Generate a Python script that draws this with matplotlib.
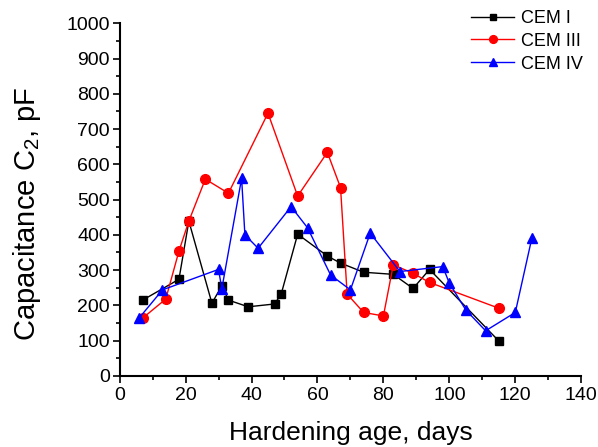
import matplotlib
matplotlib.use('Agg')
import matplotlib.pyplot as plt
from matplotlib.ticker import MultipleLocator

plt.rcParams['font.family'] = ['Liberation Sans', 'DejaVu Sans']
plt.rcParams['mathtext.fontset'] = 'custom'
plt.rcParams['mathtext.rm'] = 'Liberation Sans'

# CEM I
days_cem1 = [7, 18, 21, 28, 31, 33, 39, 47, 49, 54, 63, 67, 74, 83, 89, 94, 115]
cap_cem1 = [215, 274, 439, 206, 256, 215, 196, 204, 232, 402, 340, 320, 294, 288, 248, 302, 99]

# CEM III
days_cem3 = [7, 14, 18, 21, 26, 33, 45, 54, 63, 67, 69, 74, 80, 83, 89, 94, 115]
cap_cem3 = [164, 218, 354, 439, 558, 518, 745, 510, 634, 534, 232, 180, 170, 315, 291, 265, 192]

# CEM IV
days_cem4 = [6, 13, 30, 31, 37, 38, 42, 52, 57, 64, 70, 76, 85, 98, 100, 105, 111, 120, 125]
cap_cem4 = [165, 244, 302, 247, 560, 400, 362, 480, 420, 286, 244, 405, 296, 310, 263, 187, 128, 180, 390]

fig = plt.figure(figsize=(5.98, 4.47), dpi=100)
ax = fig.add_axes([0.2, 0.159, 0.772, 0.789])

ax.plot(days_cem1, cap_cem1, color='black', marker='s', markersize=6,
        linewidth=1, label='CEM I')
ax.plot(days_cem3, cap_cem3, color='red', marker='o', markersize=7,
        linewidth=1, label='CEM III')
ax.plot(days_cem4, cap_cem4, color='blue', marker='^', markersize=7.5,
        linewidth=1, label='CEM IV')

ax.set_xlim(0, 140)
ax.set_ylim(0, 1000)
ax.xaxis.set_major_locator(MultipleLocator(20))
ax.xaxis.set_minor_locator(MultipleLocator(10))
ax.yaxis.set_major_locator(MultipleLocator(100))
ax.yaxis.set_minor_locator(MultipleLocator(50))

for side in ('top', 'right'):
    ax.spines[side].set_visible(False)
for side in ('left', 'bottom'):
    ax.spines[side].set_linewidth(1.5)

ax.tick_params(which='major', direction='out', length=5, width=1.2,
               labelsize=14, pad=2)
ax.tick_params(axis='x', which='major', pad=3)
ax.tick_params(which='minor', direction='out', length=3, width=1.2)

ax.set_xlabel('Hardening age, days', fontsize=19, labelpad=12)
ax.set_ylabel('Capacitance C$_2$, pF', fontsize=21)
ax.yaxis.set_label_coords(-0.167, 0.46)

ax.legend(loc='upper left', bbox_to_anchor=(471 / 598, 0.978),
          bbox_transform=fig.transFigure, frameon=False, fontsize=13,
          handlelength=2.4, handletextpad=0.35, labelspacing=0.33,
          borderaxespad=0, borderpad=0, markerscale=0.8)

fig.savefig('out.png', dpi=100)
